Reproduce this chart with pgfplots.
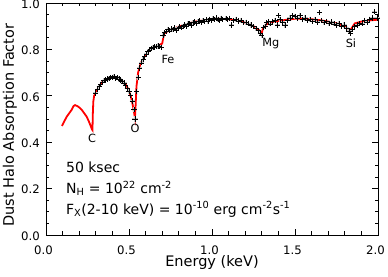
\documentclass[border=0pt]{standalone}
\usepackage{fontspec}
\setmainfont{DejaVu Sans}
\usepackage{pgfplots}
\pgfplotsset{compat=1.18}
\usepackage{pgfplotstable}

\pgfplotstableread{
E A
0.096 0.470
0.110 0.490
0.125 0.510
0.140 0.525
0.155 0.540
0.165 0.555
0.175 0.560
0.190 0.555
0.200 0.550
0.215 0.540
0.230 0.525
0.245 0.510
0.258 0.490
0.268 0.472
0.277 0.455
0.280 0.452
0.282 0.520
0.285 0.575
0.290 0.600
0.300 0.615
0.320 0.640
0.340 0.660
0.360 0.670
0.380 0.676
0.400 0.680
0.420 0.680
0.440 0.675
0.460 0.665
0.480 0.650
0.495 0.630
0.510 0.600
0.520 0.570
0.530 0.530
0.536 0.505
0.540 0.560
0.545 0.640
0.555 0.700
0.570 0.740
0.590 0.765
0.610 0.785
0.630 0.800
0.660 0.812
0.690 0.822
0.700 0.825
0.705 0.845
0.712 0.868
0.740 0.882
0.770 0.890
0.800 0.898
0.850 0.910
0.900 0.920
0.950 0.925
1.000 0.930
1.050 0.932
1.100 0.930
1.150 0.925
1.200 0.915
1.250 0.900
1.280 0.885
1.300 0.870
1.305 0.885
1.320 0.905
1.350 0.915
1.400 0.922
1.450 0.928
1.500 0.932
1.550 0.933
1.600 0.930
1.650 0.926
1.700 0.920
1.750 0.912
1.800 0.900
1.830 0.885
1.840 0.890
1.860 0.912
1.900 0.920
1.950 0.925
2.000 0.928
}\modeltab

\pgfplotstableread{
E A
0.300 0.612
0.310 0.628
0.320 0.640
0.330 0.650
0.340 0.658
0.350 0.665
0.360 0.668
0.370 0.672
0.380 0.675
0.390 0.678
0.400 0.680
0.410 0.682
0.420 0.676
0.430 0.678
0.440 0.672
0.450 0.668
0.460 0.662
0.470 0.655
0.480 0.645
0.490 0.632
0.500 0.620
0.510 0.600
0.520 0.578
0.530 0.540
0.536 0.500
0.546 0.620
0.555 0.680
0.565 0.720
0.575 0.742
0.585 0.756
0.595 0.770
0.605 0.780
0.615 0.790
0.625 0.798
0.635 0.805
0.645 0.808
0.655 0.810
0.665 0.812
0.675 0.815
0.685 0.812
0.697 0.808
0.705 0.860
0.715 0.872
0.725 0.878
0.735 0.885
0.745 0.880
0.755 0.888
0.765 0.886
0.775 0.893
0.785 0.882
0.795 0.890
0.805 0.897
0.815 0.893
0.825 0.900
0.835 0.905
0.845 0.900
0.855 0.910
0.865 0.912
0.875 0.905
0.885 0.915
0.895 0.918
0.905 0.912
0.915 0.920
0.925 0.922
0.935 0.916
0.945 0.925
0.955 0.920
0.965 0.928
0.975 0.922
0.985 0.930
0.995 0.925
1.005 0.932
1.015 0.928
1.025 0.935
1.035 0.930
1.045 0.926
1.055 0.934
1.065 0.930
1.085 0.932
1.095 0.928
1.105 0.934
1.118 0.905
1.130 0.925
1.145 0.930
1.160 0.922
1.175 0.925
1.190 0.915
1.205 0.917
1.220 0.910
1.235 0.905
1.250 0.898
1.265 0.890
1.280 0.882
1.290 0.870
1.300 0.860
1.310 0.895
1.320 0.900
1.330 0.915
1.340 0.920
1.350 0.910
1.365 0.920
1.380 0.925
1.395 0.905
1.400 0.945
1.410 0.930
1.425 0.918
1.440 0.905
1.455 0.925
1.470 0.935
1.485 0.945
1.500 0.942
1.515 0.935
1.530 0.945
1.545 0.928
1.560 0.935
1.575 0.925
1.590 0.930
1.605 0.920
1.620 0.928
1.635 0.918
1.647 0.958
1.660 0.925
1.675 0.915
1.690 0.920
1.705 0.912
1.720 0.918
1.735 0.910
1.750 0.905
1.765 0.912
1.780 0.900
1.795 0.905
1.810 0.892
1.825 0.880
1.835 0.870
1.845 0.885
1.860 0.900
1.875 0.905
1.890 0.912
1.905 0.910
1.920 0.925
1.935 0.918
1.950 0.930
1.965 0.935
1.980 0.962
1.995 0.935
}\datatab

\begin{document}
\begin{tikzpicture}
\useasboundingbox (-46bp,-42bp) rectangle (342bp,235bp);
\begin{axis}[
  at={(0,0)}, anchor=south west,
  scale only axis, width=332bp, height=232bp,
  xmin=0, xmax=2, ymin=0, ymax=1,
  xtick={0,0.5,1,1.5,2}, xticklabels={0.0,0.5,1.0,1.5,2.0},
  ytick={0,0.2,0.4,0.6,0.8,1}, yticklabels={0.0,0.2,0.4,0.6,0.8,1.0},
  minor x tick num=4, minor y tick num=3,
  tick align=inside, major tick length=6bp, minor tick length=3.5bp,
  xtick pos=both, ytick pos=both,
  axis line style={line width=0.8bp},
  every tick/.style={black, line width=0.7bp},
  tick label style={font=\fontsize{11.7bp}{13bp}\selectfont},
  xticklabel style={anchor=base, yshift=-19.5bp, xshift=-2.5bp, inner sep=0pt},
  yticklabel style={anchor=east, inner sep=0pt, xshift=-6bp, yshift=-1bp},
  label style={font=\fontsize{14.5bp}{16bp}\selectfont},
  xlabel={Energy (keV)},
  ylabel={Dust Halo Absorption Factor},
  xlabel style={at={(axis description cs:0.5,-0.1375)}, anchor=base},
  ylabel style={at={(axis description cs:-0.0964,0.474)}, anchor=base},
  clip=false,
]
\addplot[red, line width=1.8bp] table[x=E, y=A] {\modeltab};
\addplot[only marks, mark=+, mark size=2.6bp, gray!45, mark options={line width=1.3bp}] table[x=E, y=A] {\datatab};
\addplot[only marks, mark=+, mark size=2.6bp, black, mark options={line width=0.6bp}] table[x=E, y=A] {\datatab};
\node[font=\fontsize{11.3bp}{13bp}\selectfont] at (axis cs:0.277,0.418) {C};
\node[font=\fontsize{11.3bp}{13bp}\selectfont] at (axis cs:0.536,0.459) {O};
\node[font=\fontsize{11.3bp}{13bp}\selectfont] at (axis cs:0.735,0.755) {Fe};
\node[font=\fontsize{11.3bp}{13bp}\selectfont] at (axis cs:1.355,0.827) {Mg};
\node[font=\fontsize{11.3bp}{13bp}\selectfont] at (axis cs:1.837,0.827) {Si};
\node[anchor=base west, inner sep=0pt, font=\fontsize{14bp}{16bp}\selectfont] at (axis cs:0.12,0.270) {50 ksec};
\node[anchor=base west, inner sep=0pt, font=\fontsize{14bp}{16bp}\selectfont] at (axis cs:0.12,0.180) {N\textsubscript{H} = 10\textsuperscript{22} cm\textsuperscript{-2}};
\node[anchor=base west, inner sep=0pt, font=\fontsize{14bp}{16bp}\selectfont] at (axis cs:0.12,0.090) {F\textsubscript{X}(2-10 keV) = 10\textsuperscript{-10} erg cm\textsuperscript{-2}s\textsuperscript{-1}};
\end{axis}
\end{tikzpicture}
\end{document}
